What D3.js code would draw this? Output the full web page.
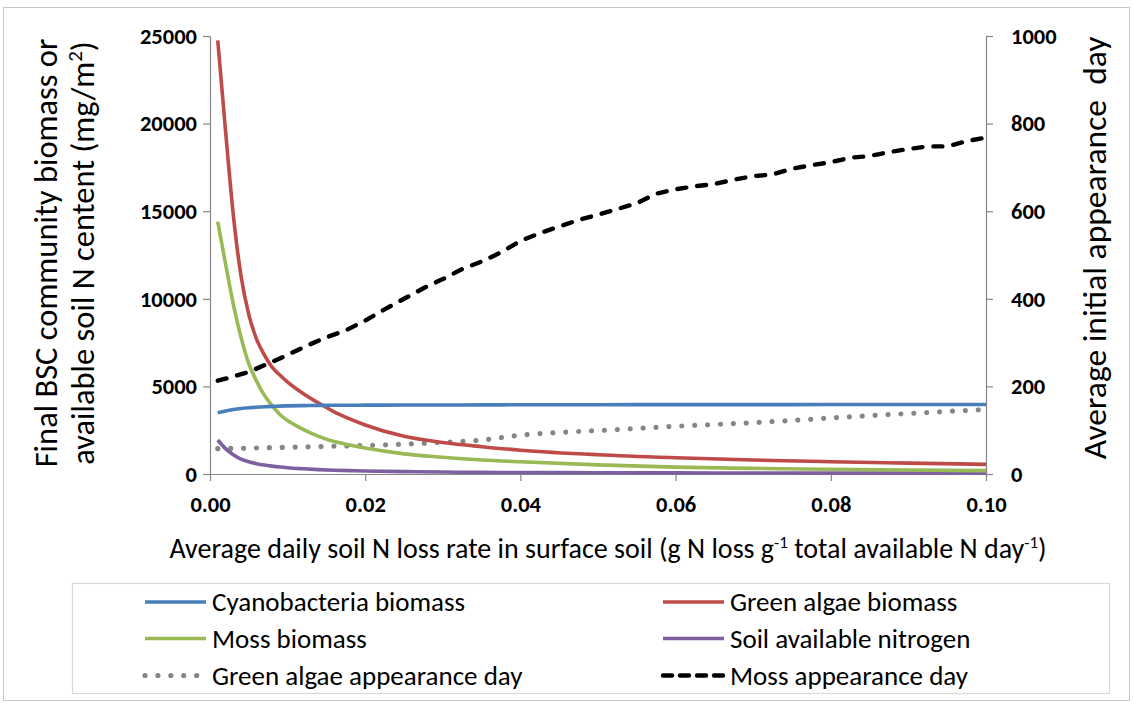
<!DOCTYPE html>
<html>
<head>
<meta charset="utf-8">
<script src="https://cdn.jsdelivr.net/npm/d3@7"></script>
<style>
  html, body { margin: 0; padding: 0; background: #fff; }
  svg { display: block; }
  text { font-family: Carlito, Calibri, Lato, "Open Sans", sans-serif; fill: #000; }
</style>
</head>
<body>
<svg id="chart" width="1133" height="703"></svg>
<script>
// ---------- data ----------
const lossRate = [0.001,0.002,0.003,0.004,0.005,0.006,0.007,0.008,0.009,0.010,0.012,0.014,0.016,0.018,0.020,0.025,0.030,0.035,0.040,0.050,0.060,0.070,0.080,0.090,0.100];
const cyanoBiomass = [3500,3600,3680,3740,3780,3810,3840,3860,3875,3890,3905,3915,3920,3925,3930,3935,3940,3945,3950,3955,3960,3960,3965,3970,3970];
const greenAlgaeBiomass = [24750,19600,14800,11300,9100,7700,6800,6100,5650,5250,4600,4050,3550,3150,2800,2150,1800,1560,1360,1100,930,800,700,620,550];
const mossBiomass = [14400,12000,9700,7800,6300,5300,4500,3900,3400,3050,2550,2150,1850,1650,1480,1150,960,800,700,520,390,320,270,225,190];
const soilNitrogen = [1940,1450,1100,850,700,590,510,450,400,360,300,250,215,190,170,135,110,95,85,70,62,56,52,48,45];

const algaeDayRate = [0.001,0.005,0.010,0.015,0.020,0.025,0.030,0.035,0.040,0.045,0.050,0.055,0.060,0.065,0.070,0.075,0.080,0.085,0.090,0.095,0.100];
const algaeAppearDay = [58,59,61,63,65,68,72,77,89,95,99,104,109,113,117,122,128,133,138,143,147];

const mossDayRate = [0.001,0.0025,0.005,0.0075,0.010,0.0125,0.015,0.0175,0.020,0.0225,0.025,0.0275,0.030,0.0325,0.035,0.0375,0.040,0.0425,0.045,0.0475,0.050,0.0525,0.055,0.0575,0.060,0.0625,0.065,0.0675,0.070,0.0725,0.075,0.0775,0.080,0.0825,0.085,0.0875,0.090,0.0925,0.095,0.0975,0.100];
const mossAppearDay = [213,220,233,252,272,293,312,328,350,376,400,424,445,468,485,506,532,550,565,580,592,605,618,640,650,657,662,672,680,684,697,705,712,722,726,735,742,748,748,760,768];

const xTicks = [0,0.02,0.04,0.06,0.08,0.10];
const leftTicks = [0,5000,10000,15000,20000,25000];
const rightTicks = [0,200,400,600,800,1000];

const seriesNames = ["Cyanobacteria biomass","Green algae biomass","Moss biomass","Soil available nitrogen","Green algae appearance day","Moss appearance day"];

// ---------- layout ----------
const svg = d3.select("#chart");
const plot = {left: 210, right: 986, top: 36, bottom: 474};

const x = d3.scaleLinear().domain([0, 0.1]).range([plot.left, plot.right]);
const yL = d3.scaleLinear().domain([0, 25000]).range([plot.bottom, plot.top]);
const yR = d3.scaleLinear().domain([0, 1000]).range([plot.bottom, plot.top]);

const styles = {
  cyano: {stroke: "#4A7EBB", width: 3.6},
  algae: {stroke: "#BE4B48", width: 3.6},
  moss: {stroke: "#98B954", width: 3.6},
  soilN: {stroke: "#7D60A0", width: 3.6},
  algaeDay: {stroke: "#858585", width: 5.2, dash: "0.01 12.9", cap: "round"},
  mossDay: {stroke: "#000", width: 4.4, dash: "9 11", cap: "round"}
};

// outer frame
svg.append("rect").attr("x", 3.5).attr("y", 7.5).attr("width", 1126).attr("height", 693)
  .attr("fill", "none").attr("stroke", "#c6c6c6").attr("stroke-width", 1);

// ---------- axes ----------
const axisColor = "#868686";
const gx = svg.append("g").attr("transform", `translate(0,${plot.bottom})`)
  .call(d3.axisBottom(x).tickValues(xTicks).tickFormat(d3.format(".2f")).tickSizeInner(7).tickSizeOuter(0).tickPadding(10));
const gl = svg.append("g").attr("transform", `translate(${plot.left},0)`)
  .call(d3.axisLeft(yL).tickValues(leftTicks).tickFormat(d3.format("d")).tickSizeInner(7).tickSizeOuter(0).tickPadding(6));
const gr = svg.append("g").attr("transform", `translate(${plot.right},0)`)
  .call(d3.axisRight(yR).tickValues(rightTicks).tickFormat(d3.format("d")).tickSizeInner(7).tickSizeOuter(0).tickPadding(18));

[gx, gl, gr].forEach(g => {
  g.select(".domain").attr("stroke", axisColor).attr("stroke-width", 1.2);
  g.selectAll(".tick line").attr("stroke", axisColor).attr("stroke-width", 1.2);
  g.selectAll(".tick text").style("font-size", "22.5px").style("font-weight", "bold")
    .style("font-family", "Carlito, Calibri, Lato, 'Open Sans', sans-serif").attr("fill", "#000");
});
gx.selectAll(".tick text").attr("dy", "0.95em");

// ---------- lines ----------
function drawLine(xs, ys, yScale, st, curve) {
  const pts = xs.map((d, i) => [d, ys[i]]);
  const line = d3.line().x(d => x(d[0])).y(d => yScale(d[1])).curve(curve);
  const p = svg.append("path").datum(pts).attr("d", line)
    .attr("fill", "none").attr("stroke", st.stroke).attr("stroke-width", st.width)
    .attr("stroke-linejoin", "round").attr("stroke-linecap", st.cap || "butt");
  if (st.dash) p.attr("stroke-dasharray", st.dash);
  return p;
}

drawLine(algaeDayRate, algaeAppearDay, yR, styles.algaeDay, d3.curveLinear);
drawLine(lossRate, soilNitrogen, yL, styles.soilN, d3.curveMonotoneX);
drawLine(lossRate, mossBiomass, yL, styles.moss, d3.curveMonotoneX);
drawLine(lossRate, greenAlgaeBiomass, yL, styles.algae, d3.curveMonotoneX);
drawLine(lossRate, cyanoBiomass, yL, styles.cyano, d3.curveMonotoneX);
drawLine(mossDayRate, mossAppearDay, yR, styles.mossDay, d3.curveLinear);

// ---------- axis titles ----------
svg.append("text").attr("transform", "translate(57,253) rotate(-90)")
  .attr("text-anchor", "middle").style("font-size", "32.5px").text("Final BSC community biomass or");
const leftTitle2 = svg.append("text").attr("transform", "translate(94,253) rotate(-90)")
  .attr("text-anchor", "middle").style("font-size", "32.5px");
leftTitle2.append("tspan").text("available soil N centent (mg/m");
leftTitle2.append("tspan").attr("dy", -12).style("font-size", "21px").text("2");
leftTitle2.append("tspan").attr("dy", 12).text(")");

svg.append("text").attr("transform", "translate(1106,248) rotate(-90)")
  .attr("text-anchor", "middle").style("font-size", "33.5px").attr("xml:space", "preserve")
  .text("Average initial appearance\u00A0 day");

const xt = svg.append("text").attr("x", 608).attr("y", 558).attr("text-anchor", "middle").style("font-size", "28px");
xt.append("tspan").text("Average daily soil N loss rate in surface soil (g N loss g");
xt.append("tspan").attr("dy", -10).style("font-size", "17px").text("-1");
xt.append("tspan").attr("dy", 10).text(" total available N day");
xt.append("tspan").attr("dy", -10).style("font-size", "17px").text("-1");
xt.append("tspan").attr("dy", 10).text(")");

// ---------- legend ----------
svg.append("rect").attr("x", 72.5).attr("y", 583.5).attr("width", 1037).attr("height", 110)
  .attr("fill", "none").attr("stroke", "#d9d9d9").attr("stroke-width", 1.2);

const legendItems = [
  {name: seriesNames[0], st: styles.cyano, col: 0, row: 0},
  {name: seriesNames[1], st: styles.algae, col: 1, row: 0},
  {name: seriesNames[2], st: styles.moss, col: 0, row: 1},
  {name: seriesNames[3], st: styles.soilN, col: 1, row: 1},
  {name: seriesNames[4], st: styles.algaeDay, col: 0, row: 2},
  {name: seriesNames[5], st: styles.mossDay, col: 1, row: 2}
];
const colX = [145, 663];
const rowY = [602, 638.5, 675.5];
legendItems.forEach(it => {
  const x0 = colX[it.col], y0 = rowY[it.row];
  const ln = svg.append("line").attr("x1", x0).attr("x2", x0 + 61).attr("y1", y0).attr("y2", y0)
    .attr("stroke", it.st.stroke).attr("stroke-width", it.st.width).attr("stroke-linecap", it.st.cap || "butt");
  if (it.st.dash) ln.attr("stroke-dasharray", it.st.dash === styles.mossDay.dash ? "9 8" : it.st.dash);
  svg.append("text").attr("x", x0 + 67).attr("y", y0).attr("dy", "0.34em")
    .style("font-size", "27px").text(it.name);
});
</script>
</body>
</html>
